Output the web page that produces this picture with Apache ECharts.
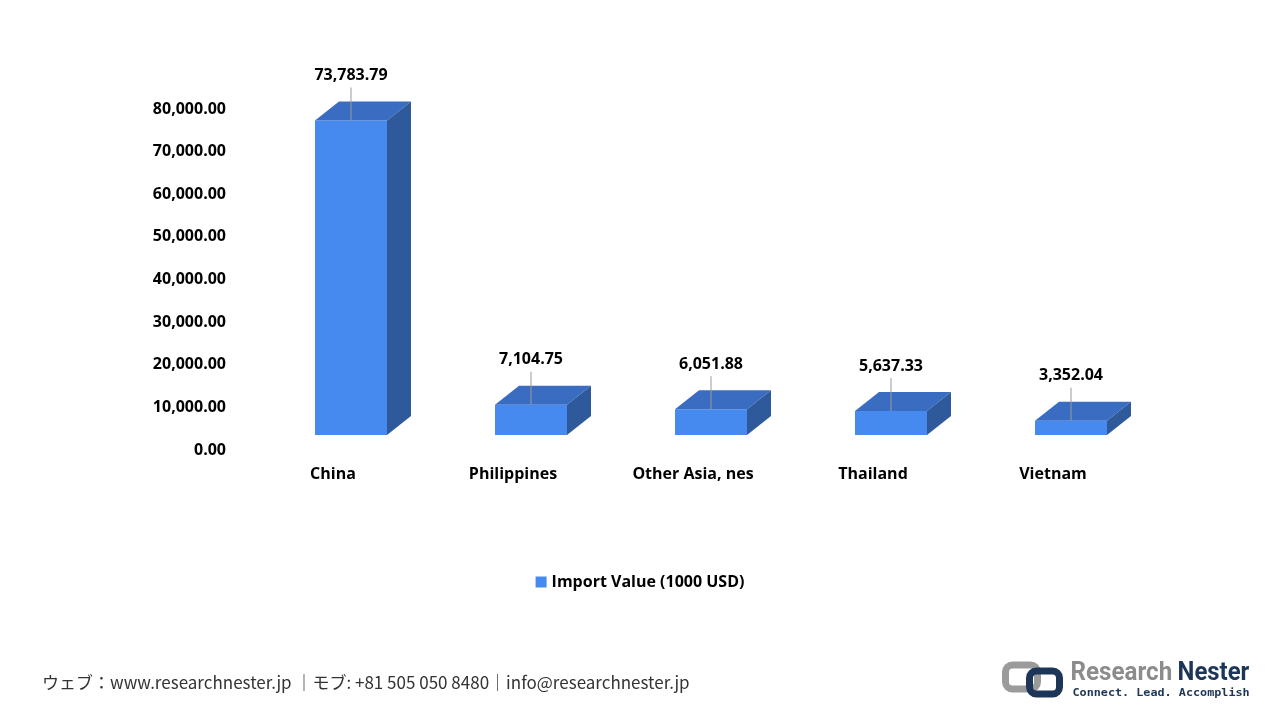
<!DOCTYPE html>
<html>
<head>
<meta charset="utf-8">
<script src="https://cdn.jsdelivr.net/npm/echarts@6/dist/echarts.min.js"></script>
<style>html,body{margin:0;padding:0;background:#fff;}#c{width:1280px;height:720px;}</style>
</head>
<body>
<div id="c"></div>
<script>
const categories = ['China', 'Philippines', 'Other Asia, nes', 'Thailand', 'Vietnam'];
const importValues = [73783.79, 7104.75, 6051.88, 5637.33, 3352.04];
const seriesName = 'Import Value (1000 USD)';
const yMax = 80000;
const yInterval = 10000;

const FONT = '"Open Sans", "Noto Sans", sans-serif';
const fmt = v => v.toLocaleString('en-US', {minimumFractionDigits: 2, maximumFractionDigits: 2});

const FRONT = '#4689EF';
const TOP = '#3A6DC2';
const SIDE = '#2E5A9C';

const chart = echarts.init(document.getElementById('c'));
chart.setOption({
  backgroundColor: '#ffffff',
  animation: false,
  grid: {left: 243, right: 137, top: 109, bottom: 270},
  legend: {
    data: [{name: seriesName, icon: 'rect'}],
    left: 'center', top: 569,
    itemWidth: 11, itemHeight: 11, itemGap: 6,
    textStyle: {fontFamily: FONT, fontWeight: 'bold', fontSize: 16, color: '#000'}
  },
  xAxis: {
    type: 'category', data: categories,
    axisLine: {show: false}, axisTick: {show: false},
    axisLabel: {fontFamily: FONT, fontWeight: 'bold', fontSize: 16, color: '#000', margin: 16, interval: 0}
  },
  yAxis: {
    type: 'value', min: 0, max: yMax, interval: yInterval,
    splitLine: {show: false}, axisLine: {show: false}, axisTick: {show: false},
    axisLabel: {fontFamily: FONT, fontWeight: 'bold', fontSize: 16, color: '#000', margin: 17, formatter: v => fmt(v)}
  },
  series: [{
    name: seriesName,
    type: 'custom',
    itemStyle: {color: FRONT},
    data: importValues.map((v, i) => [i, v]),
    renderItem: function (params, api) {
      const c = api.coord([api.value(0), api.value(1)]);
      const b = api.coord([api.value(0), 0]);
      const lift = -15, shiftX = 18, w = 72, dx = 24, dy = -19;
      const cx = c[0] + shiftX;
      const x0 = cx - w / 2, x1 = cx + w / 2;
      const yt = c[1] + lift, yb = b[1] + lift;
      return {
        type: 'group',
        children: [
          {type: 'rect', shape: {x: x0, y: yt, width: w, height: yb - yt}, style: {fill: FRONT}},
          {type: 'polygon', shape: {points: [[x0, yt], [x0 + dx, yt + dy], [x1 + dx, yt + dy], [x1, yt]]}, style: {fill: TOP}},
          {type: 'polygon', shape: {points: [[x1, yt], [x1 + dx, yt + dy], [x1 + dx, yb + dy], [x1, yb]]}, style: {fill: SIDE}},
          {type: 'line', shape: {x1: cx, y1: yt - 33, x2: cx, y2: yt}, style: {stroke: '#9a9a9a', lineWidth: 1}},
          {type: 'text', x: cx, y: yt - 45, style: {text: fmt(api.value(1)), fill: '#000', font: 'bold 16px ' + FONT, align: 'center', verticalAlign: 'middle'}}
        ]
      };
    }
  }],
  graphic: [
    {type: 'text', left: 42, top: 674, style: {text: 'ウェブ：www.researchnester.jp ｜モブ: +81 505 050 8480｜info@researchnester.jp', fill: '#333', font: '17px "Noto Sans CJK JP", sans-serif'}},
    {type: 'group', left: 1002, top: 660, children: [
      {type: 'rect', shape: {x: 3, y: 5, width: 32, height: 24, r: 7}, style: {fill: 'none', stroke: '#9b9b9b', lineWidth: 7}},
      {type: 'rect', shape: {x: 27, y: 11, width: 30, height: 23, r: 7}, style: {fill: 'none', stroke: '#1d3658', lineWidth: 7}},
      {type: 'text', x: 68, y: 0, scaleX: 0.93, style: {text: 'Research', fill: '#8c8c8c', font: 'bold 26px "Roboto", sans-serif'}},
      {type: 'text', x: 175, y: 0, scaleX: 0.92, style: {text: 'Nester', fill: '#1d3658', font: 'bold 26px "Roboto", sans-serif'}},
      {type: 'text', x: 70, y: 28, scaleX: 1.07, style: {text: 'Connect. Lead. Accomplish', fill: '#1d3658', font: 'bold 11px "DejaVu Sans Mono", monospace'}}
    ]}
  ]
});
</script>
</body>
</html>
